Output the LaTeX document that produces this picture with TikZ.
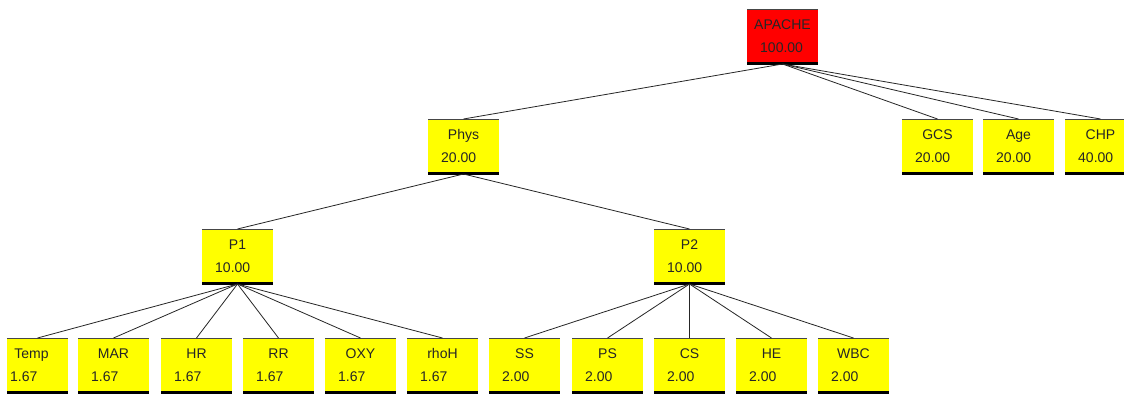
\documentclass[tikz,border=0pt]{standalone}
\usepackage{fontspec}
\setmainfont{Liberation Sans}
\definecolor{boxyellow}{RGB}{255,255,0}
\definecolor{boxred}{RGB}{255,0,0}
\definecolor{toplinec}{RGB}{70,70,70}
\begin{document}
\begin{tikzpicture}[x=1pt,y=-1pt,
  box/.style={anchor=north west, minimum width=71pt, minimum height=55pt,
    inner sep=0pt, outer sep=0pt, fill=boxyellow,
    path picture={
      \draw[toplinec, line width=2pt] (path picture bounding box.north west) -- (path picture bounding box.north east);
      \draw[black, line width=3.6pt] (path picture bounding box.south west) -- (path picture bounding box.south east);}},
  nm/.style={anchor=base, font=\fontsize{14}{16}\selectfont, inner sep=0pt, text=black!85},
  val/.style={anchor=base west, font=\fontsize{14}{16}\selectfont, inner sep=0pt, text=black!85},
  link/.style={draw=black!85, line width=0.8pt}]
\useasboundingbox (0,0) rectangle (1124,394);
\clip (0,0) rectangle (1124,394);
\fill[white] (0,0) rectangle (1124,394);
\newcommand\tbox[6]{%
  \node[box, fill=#6] (#1) at (#2,#3) {};
  \node[nm] at ([yshift=-20pt]#1.north) {#4};
  \node[val] at ([xshift=13pt,yshift=-43pt]#1.north west) {#5};}
% level 0
\tbox{apache}{747}{9}{APACHE}{100.00}{boxred}
% level 1
\tbox{phys}{428}{119}{Phys}{20.00}{boxyellow}
\tbox{gcs}{902}{119}{GCS}{20.00}{boxyellow}
\tbox{age}{983}{119}{Age}{20.00}{boxyellow}
\tbox{chp}{1065}{119}{CHP}{40.00}{boxyellow}
% level 2
\tbox{p1}{202}{229}{P1}{10.00}{boxyellow}
\tbox{p2}{654}{229}{P2}{10.00}{boxyellow}
% level 3
\node[box, minimum width=61pt] (temp) at (7,338) {};
\node[nm] at ([xshift=-6pt,yshift=-20pt]temp.north) {Temp};
\node[val] at ([xshift=3pt,yshift=-43pt]temp.north west) {1.67};
\tbox{mar}{78}{338}{MAR}{1.67}{boxyellow}
\tbox{hr}{161}{338}{HR}{1.67}{boxyellow}
\tbox{rr}{243}{338}{RR}{1.67}{boxyellow}
\tbox{oxy}{325}{338}{OXY}{1.67}{boxyellow}
\tbox{rhoh}{407}{338}{rhoH}{1.67}{boxyellow}
\tbox{ss}{489}{338}{SS}{2.00}{boxyellow}
\tbox{ps}{572}{338}{PS}{2.00}{boxyellow}
\tbox{cs}{654}{338}{CS}{2.00}{boxyellow}
\tbox{he}{736}{338}{HE}{2.00}{boxyellow}
\tbox{wbc}{818}{338}{WBC}{2.00}{boxyellow}
% connectors
\foreach \c in {phys,gcs,age,chp} \draw[link] (apache.south) -- (\c.north);
\foreach \c in {p1,p2} \draw[link] (phys.south) -- (\c.north);
\foreach \c in {temp,mar,hr,rr,oxy,rhoh} \draw[link] (p1.south) -- (\c.north);
\foreach \c in {ss,ps,cs,he,wbc} \draw[link] (p2.south) -- (\c.north);
\end{tikzpicture}
\end{document}
